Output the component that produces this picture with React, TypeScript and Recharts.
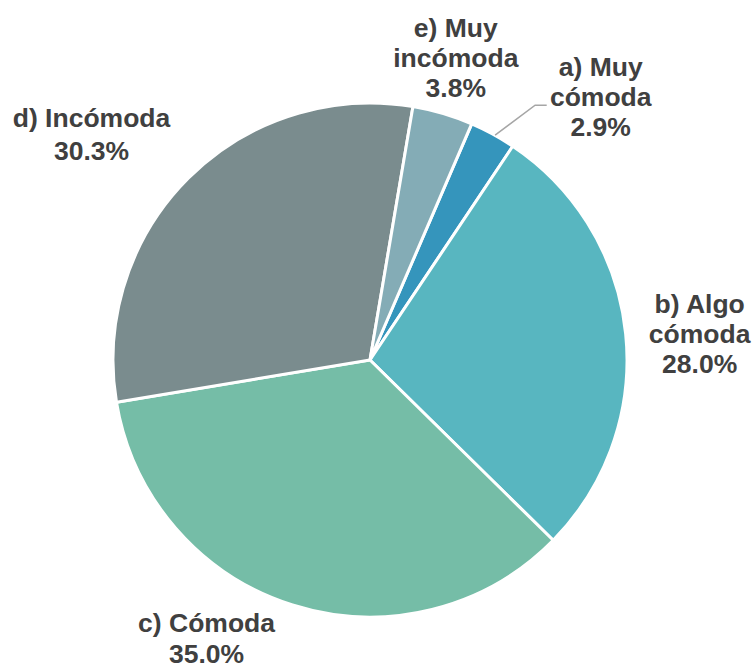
import React from "react";
import { PieChart, Pie, Cell } from "recharts";

const categories = ["a) Muy cómoda", "b) Algo cómoda", "c) Cómoda", "d) Incómoda", "e) Muy incómoda"];
const values = [2.9, 28.0, 35.0, 30.3, 3.8];
const labelLines = [
  ["a) Muy", "cómoda"],
  ["b) Algo", "cómoda"],
  ["c) Cómoda"],
  ["d) Incómoda"],
  ["e) Muy", "incómoda"],
];
const colors = ["#3595BC", "#58B6C0", "#75BDA7", "#7A8C8E", "#84ACB6"];
// label offsets (from the slice's outer edge at mid-angle to first baseline center)
const labelOffsets = [
  { dx: 108, dy: -58, lh: 30 },
  { dx: 74, dy: -21, lh: 30 },
  { dx: -86, dy: 27, lh: 31 },
  { dx: -97, dy: -51, lh: 33 },
  { dx: 13, dy: -77, lh: 30 },
];

const data = categories.map((name, i) => ({ name, value: values[i] }));
const RADIAN = Math.PI / 180;

const renderLabel = (props: any) => {
  const { cx, cy, midAngle, outerRadius, index } = props;
  const ex = cx + outerRadius * Math.cos(-midAngle * RADIAN);
  const ey = cy + outerRadius * Math.sin(-midAngle * RADIAN);
  const off = labelOffsets[index];
  const lines = [...labelLines[index], `${values[index].toFixed(1)}%`];
  const x = ex + off.dx;
  const y = ey + off.dy;
  return (
    <g key={`lbl-${index}`}>
      {index === 0 && (
        <polyline
          points={`${ex + 2.4},${ey + 0.9} ${ex + 42.4},${ey - 29} ${ex + 54},${ey - 29}`}
          fill="none"
          stroke="#A6A6A6"
          strokeWidth={1.5}
        />
      )}
      <text
        x={x}
        y={y}
        textAnchor="middle"
        fill="#404040"
        fontFamily="'Liberation Sans', Arial, sans-serif"
        fontWeight="bold"
        fontSize={26.5}
      >
        {lines.map((l, i) => (
          <tspan key={i} x={x} y={y + i * off.lh}>
            {l}
          </tspan>
        ))}
      </text>
    </g>
  );
};

export default function App() {
  return (
    <div style={{ width: 752, height: 664 }}>
      <style>{`body{margin:0}`}</style>
      <PieChart width={752} height={664} margin={{ top: 0, right: 0, bottom: 0, left: 0 }}>
        <Pie
          data={data}
          dataKey="value"
          nameKey="name"
          cx={370}
          cy={360}
          outerRadius={257}
          startAngle={66.7}
          endAngle={-293.3}
          stroke="#FFFFFF"
          strokeWidth={3}
          label={renderLabel}
          labelLine={false}
          isAnimationActive={false}
        >
          {data.map((d, i) => (
            <Cell key={d.name} fill={colors[i]} />
          ))}
        </Pie>
      </PieChart>
    </div>
  );
}
